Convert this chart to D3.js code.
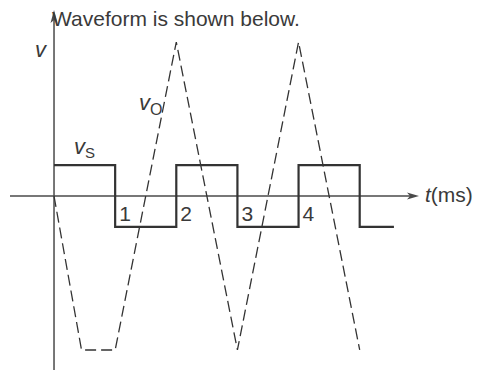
<!DOCTYPE html>
<html>
<head>
<meta charset="utf-8">
<script src="https://cdn.jsdelivr.net/npm/d3@7"></script>
<style>
  html, body { margin: 0; padding: 0; background: #fff; }
  svg { display: block; }
  text { font-family: "Liberation Sans", Arial, Helvetica, sans-serif; fill: #3a3a3a; }
</style>
</head>
<body>
<svg id="chart" width="478" height="373"></svg>
<script>
// ---- data (t in ms, v in arbitrary units) ----
const vsTimes  = [0, 1, 1, 2, 2, 3, 3, 4, 4, 5, 5, 5.56];
const vsValues = [1, 1, -1, -1, 1, 1, -1, -1, 1, 1, -1, -1];
const voTimes  = [0, 0.45, 1, 2, 3, 4, 5];
const voValues = [0, -5, -5, 5, -5, 5, -5];
const tickLabels = ["1", "2", "3", "4"];
const tickTimes  = [1, 2, 3, 4];
const tDomain = [-0.72, 5.97];
const vDomain = [-5.65, 6.04];

const svg = d3.select("#chart");
const x = d3.scaleLinear().domain(tDomain).range([10, 419]);
const y = d3.scaleLinear().domain(vDomain).range([370, 10]);

const axisColor = "#4a4a4a";
const lineColor = "#333";

// axes
svg.append("line")
  .attr("x1", x(tDomain[0])).attr("x2", x(tDomain[1]) - 6)
  .attr("y1", y(0)).attr("y2", y(0))
  .attr("stroke", axisColor).attr("stroke-width", 1.5);
svg.append("path")
  .attr("d", `M${x(tDomain[1])},${y(0)} L${x(tDomain[1]) - 12},${y(0) - 3.5} L${x(tDomain[1]) - 9},${y(0)} L${x(tDomain[1]) - 12},${y(0) + 3.5} Z`)
  .attr("fill", axisColor);

svg.append("line")
  .attr("x1", x(0)).attr("x2", x(0))
  .attr("y1", y(vDomain[0])).attr("y2", y(vDomain[1]) + 6)
  .attr("stroke", axisColor).attr("stroke-width", 1.5);
svg.append("path")
  .attr("d", `M${x(0)},${y(vDomain[1])} L${x(0) - 3.5},${y(vDomain[1]) + 13} L${x(0)},${y(vDomain[1]) + 10} L${x(0) + 3.5},${y(vDomain[1]) + 13} Z`)
  .attr("fill", axisColor);

const line = d3.line().x(d => x(d[0])).y(d => y(d[1]));

// triangle vo (dashed)
svg.append("path")
  .datum(voTimes.map((t, i) => [t, voValues[i]]))
  .attr("d", line)
  .attr("fill", "none")
  .attr("stroke", lineColor)
  .attr("stroke-width", 1.3)
  .attr("stroke-dasharray", "11,5");

// square vs
svg.append("path")
  .datum(vsTimes.map((t, i) => [t, vsValues[i]]))
  .attr("d", line)
  .attr("fill", "none")
  .attr("stroke", lineColor)
  .attr("stroke-width", 2.2);

// tick labels
svg.selectAll("text.tick")
  .data(tickTimes)
  .enter().append("text")
  .attr("class", "tick")
  .attr("x", d => x(d) + 4)
  .attr("y", y(0) + 25)
  .attr("font-size", 21)
  .text((d, i) => tickLabels[i]);

// title
svg.append("text")
  .attr("x", 52).attr("y", 26)
  .attr("font-size", 21)
  .text("Waveform is shown below.");

// v axis label
svg.append("text")
  .attr("x", 35).attr("y", 57)
  .attr("font-size", 22)
  .attr("font-style", "italic")
  .text("v");

// t(ms) label
const tl = svg.append("text")
  .attr("x", 425).attr("y", 202)
  .attr("font-size", 21);
tl.append("tspan").attr("font-style", "italic").text("t");
tl.append("tspan").text("(ms)");

// vS label
const vs = svg.append("text").attr("x", 74).attr("y", 154).attr("font-size", 22);
vs.append("tspan").attr("font-style", "italic").text("v");
vs.append("tspan").attr("font-size", 15).attr("dy", 4).text("S");

// vO label
const vo = svg.append("text").attr("x", 139).attr("y", 110).attr("font-size", 22);
vo.append("tspan").attr("font-style", "italic").text("v");
vo.append("tspan").attr("font-size", 16).attr("dy", 5).text("O");
</script>
</body>
</html>
